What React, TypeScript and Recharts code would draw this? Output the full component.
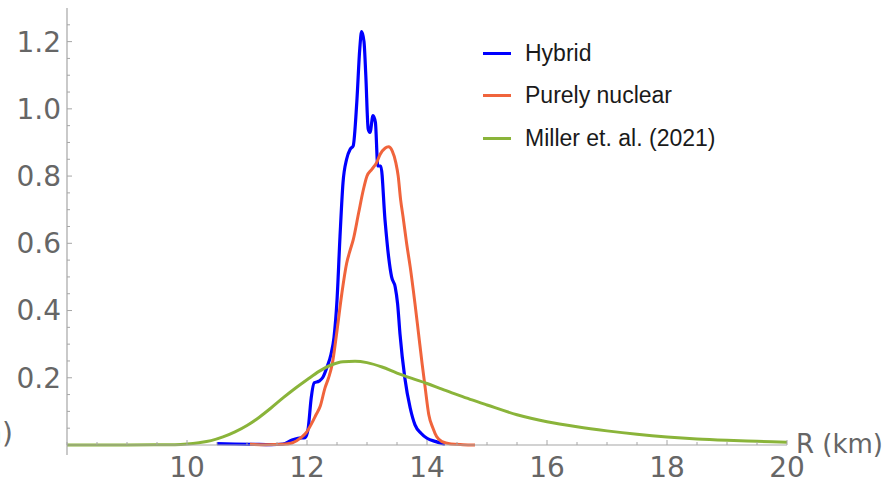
import React from 'react';
import { LineChart, Line, XAxis, YAxis, Legend } from 'recharts';

// radius grid (km) and probability density for each model
const hybridR = [10.5, 10.8, 11.1, 11.4, 11.6, 11.75, 11.85, 11.97, 12.02, 12.07, 12.12, 12.2, 12.26, 12.33, 12.4, 12.45, 12.5, 12.55, 12.6, 12.66, 12.72, 12.77, 12.83, 12.88, 12.91, 12.95, 12.98, 13.02, 13.05, 13.1, 13.14, 13.18, 13.23, 13.3, 13.36, 13.41, 13.47, 13.51, 13.55, 13.63, 13.72, 13.8, 13.9, 14.0, 14.15, 14.3];
const hybridP = [0.004, 0.003, 0.002, 0.001, 0.003, 0.015, 0.02, 0.022, 0.05, 0.14, 0.185, 0.19, 0.2, 0.23, 0.27, 0.32, 0.43, 0.62, 0.78, 0.85, 0.88, 0.89, 1.02, 1.18, 1.23, 1.2, 1.1, 0.94, 0.93, 0.98, 0.96, 0.83, 0.83, 0.67, 0.56, 0.5, 0.47, 0.42, 0.33, 0.2, 0.11, 0.06, 0.035, 0.02, 0.01, 0.002];

const nuclearR = [11.05, 11.3, 11.6, 11.75, 11.9, 12.0, 12.08, 12.15, 12.22, 12.3, 12.36, 12.42, 12.5, 12.58, 12.66, 12.72, 12.77, 12.86, 12.94, 13.0, 13.08, 13.16, 13.22, 13.3, 13.36, 13.42, 13.48, 13.52, 13.56, 13.6, 13.66, 13.72, 13.8, 13.86, 13.92, 13.97, 14.03, 14.1, 14.16, 14.25, 14.4, 14.6, 14.8];
const nuclearP = [0.002, 0.001, 0.002, 0.006, 0.022, 0.04, 0.065, 0.09, 0.115, 0.17, 0.2, 0.24, 0.34, 0.45, 0.54, 0.58, 0.61, 0.69, 0.76, 0.8, 0.82, 0.84, 0.865, 0.883, 0.887, 0.875, 0.84, 0.8, 0.73, 0.68, 0.6, 0.53, 0.42, 0.33, 0.24, 0.17, 0.09, 0.05, 0.025, 0.01, 0.003, 0.001, 0];

const millerR = [7.95, 8.5, 9.0, 9.5, 9.8, 10.0, 10.2, 10.4, 10.6, 10.8, 11.0, 11.2, 11.4, 11.6, 11.8, 12.0, 12.2, 12.4, 12.6, 12.8, 13.0, 13.25, 13.5, 13.75, 14.0, 14.25, 14.5, 14.75, 15.0, 15.5, 16.0, 16.5, 17.0, 17.5, 18.0, 18.5, 19.0, 19.5, 20.0];
const millerP = [0, 0, 0, 0.0005, 0.001, 0.003, 0.007, 0.013, 0.024, 0.039, 0.058, 0.082, 0.11, 0.14, 0.168, 0.194, 0.219, 0.238, 0.248, 0.249, 0.245, 0.232, 0.214, 0.198, 0.183, 0.166, 0.15, 0.134, 0.119, 0.09, 0.069, 0.054, 0.042, 0.032, 0.024, 0.018, 0.014, 0.011, 0.008];

const seriesNames = ['Hybrid', 'Purely nuclear', 'Miller et. al. (2021)'];
const xMajorTicks = [10, 12, 14, 16, 18, 20];
const yMajorTicks = [0.2, 0.4, 0.6, 0.8, 1.0, 1.2];
const xTicks = Array.from({ length: 25 }, (_, i) => 8 + i * 0.5);
const yTicks = Array.from({ length: 26 }, (_, i) => Math.round(i * 5) / 100);

const zip = (rs: number[], ps: number[]) => rs.map((R, i) => ({ R, P: ps[i] }));
const hybrid = zip(hybridR, hybridP);
const nuclear = zip(nuclearR, nuclearP);
const miller = zip(millerR, millerP);

const AXIS = '#a6a6a6';
const LABEL = '#666666';
const TICK_FONT = '"DejaVu Sans", Verdana, sans-serif';
const GAP = 6;

const isMajor = (v: number, majors: number[]) => majors.some(m => Math.abs(m - v) < 1e-6);

const YTick = (props: any) => {
  const { x, y, payload } = props;
  const v = payload.value;
  const ax = x + GAP;
  if (v === 0) {
    // axis runs a little past the origin
    return <line x1={ax} x2={ax} y1={y} y2={y + 10} stroke={AXIS} strokeWidth={1.2} />;
  }
  const major = isMajor(v, yMajorTicks);
  return (
    <g>
      <line x1={ax} x2={ax + (major ? 5 : 3)} y1={y} y2={y} stroke={AXIS} />
      {major && (
        <text x={x} y={y} dy="0.355em" textAnchor="end" fill={LABEL} fontSize={28} fontFamily={TICK_FONT}>
          {v.toFixed(1)}
        </text>
      )}
    </g>
  );
};

const XTick = (props: any) => {
  const { x, y, payload } = props;
  const v = payload.value;
  const ay = y - 12;
  const major = isMajor(v, xMajorTicks);
  return (
    <g>
      <line x1={x} x2={x} y1={ay} y2={ay - (major ? 5 : 3)} stroke={AXIS} />
      {major && (
        <text x={x} y={y} dy="0.71em" textAnchor="middle" fill={LABEL} fontSize={28} fontFamily={TICK_FONT}>
          {v}
        </text>
      )}
    </g>
  );
};

const XTitle = (props: any) => {
  const vb = props.viewBox;
  return (
    <text x={vb.x + vb.width + 9} y={vb.y} dy="0.3em" fill={LABEL} fontSize={26} fontFamily={TICK_FONT}>
      R (km)
    </text>
  );
};

const YTitle = (props: any) => {
  const vb = props.viewBox;
  return (
    <text x={vb.x + 13} y={vb.y + vb.height - 12} dy="0.355em" textAnchor="end" fill={LABEL} fontSize={28} fontFamily={TICK_FONT}>
      P(R) (1/km)
    </text>
  );
};

const renderLegend = (props: any) => {
  const items = [...props.payload].sort(
    (a: any, b: any) => seriesNames.indexOf(a.value) - seriesNames.indexOf(b.value)
  );
  return (
    <div style={{ fontFamily: '"Liberation Sans", Arial, sans-serif', fontSize: 23, color: '#1a1a1a' }}>
      {items.map((entry: any) => (
        <div key={entry.value} style={{ display: 'flex', alignItems: 'center', height: 42.5 }}>
          <span style={{ display: 'inline-block', width: 28, height: 3, background: entry.color, marginRight: 14 }} />
          <span>{entry.value}</span>
        </div>
      ))}
    </div>
  );
};

export default function App() {
  return (
    <div style={{ width: 893, height: 480, background: '#fff' }}>
      <style>{'body{margin:0}'}</style>
      <LineChart width={893} height={480} margin={{ top: 8, right: 106, bottom: 0, left: 0 }}>
        <XAxis
          type="number"
          dataKey="R"
          domain={[8, 20]}
          allowDataOverflow
          ticks={xTicks}
          interval={0}
          tickSize={0}
          tickMargin={12}
          tickLine={false}
          tick={<XTick />}
          axisLine={{ stroke: AXIS, strokeWidth: 1.2 }}
          height={35}
          label={<XTitle />}
        />
        <YAxis
          type="number"
          domain={[0, 1.3]}
          ticks={yTicks}
          interval={0}
          tickSize={0}
          tickMargin={GAP}
          tickLine={false}
          tick={<YTick />}
          axisLine={{ stroke: AXIS, strokeWidth: 1.2 }}
          width={67}
          label={<YTitle />}
        />
        <Legend
          layout="vertical"
          align="center"
          verticalAlign="middle"
          content={renderLegend}
          wrapperStyle={{ left: 483, top: 32, width: 'auto' }}
        />
        <Line data={hybrid} dataKey="P" name={seriesNames[0]} type="monotone" stroke="#0000ff" strokeWidth={3.2} dot={false} isAnimationActive={false} />
        <Line data={nuclear} dataKey="P" name={seriesNames[1]} type="monotone" stroke="#f0643c" strokeWidth={3} dot={false} isAnimationActive={false} />
        <Line data={miller} dataKey="P" name={seriesNames[2]} type="monotone" stroke="#8ab43a" strokeWidth={3} dot={false} isAnimationActive={false} />
      </LineChart>
    </div>
  );
}
